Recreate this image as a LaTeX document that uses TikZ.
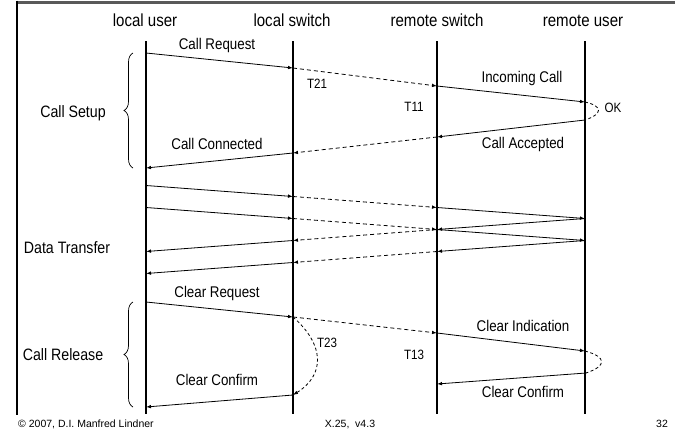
\documentclass[tikz,border=0pt]{standalone}
\usepackage{fontspec}
\setmainfont[FakeStretch=0.86]{Liberation Sans}
\newfontfamily\footfont{Liberation Sans}
\usetikzlibrary{arrows.meta,decorations.pathreplacing}
\begin{document}
\begin{tikzpicture}[x=1pt,y=-1pt,
  lifeline/.style={line width=1.6pt},
  msg/.style={line width=0.8pt,-{Latex[length=5pt,width=3.6pt]}},
  dmsg/.style={msg,dash pattern=on 4pt off 3pt},
  timer/.style={line width=0.8pt,dash pattern=on 3pt off 2.5pt},
  head/.style={font=\fontsize{17.5}{20}\selectfont,anchor=base,inner sep=0pt},
  lbl/.style={font=\fontsize{15.5}{18}\selectfont,inner sep=0pt},
  tlbl/.style={font=\fontsize{13.5}{16}\selectfont,inner sep=0pt},
  phase/.style={font=\fontsize{16.5}{19}\selectfont,inner sep=0pt},
  foot/.style={font=\footfont\fontsize{10.5}{12}\selectfont,inner sep=0pt},
  bracestyle/.style={decorate,decoration={brace,amplitude=9pt},line width=0.7pt}
]
\useasboundingbox (0,0) rectangle (675,432);
% frame
\coordinate (fTL) at (17,2);
\coordinate (fTR) at (675,2);
\coordinate (fBL) at (17,415);
\draw[line width=3pt,black!65] (fTL) -- (fTR);
\draw[line width=1.8pt] (17,0.5) -- (fBL);

% headers
\node[head] (hLU) at (145,26.5) {local user};
\node[head] (hLS) at (292,26.5) {local switch};
\node[head] (hRS) at (437,26.5) {remote switch};
\node[head] (hRU) at (583,26.5) {remote user};

% lifelines
\coordinate (LUt) at (146,41); \coordinate (LUb) at (146,414);
\coordinate (LSt) at (293,41); \coordinate (LSb) at (293,414);
\coordinate (RSt) at (437,41); \coordinate (RSb) at (437,414);
\coordinate (RUt) at (585,41); \coordinate (RUb) at (585,414);
\draw[lifeline] (LUt) -- (LUb);
\draw[lifeline] (LSt) -- (LSb);
\draw[lifeline] (RSt) -- (RSb);
\draw[lifeline] (RUt) -- (RUb);

% ---------- call setup ----------
\coordinate (cr0) at (146,53);
\coordinate (cr1) at (293,68);
\coordinate (cr2) at (437,86);
\coordinate (cr3) at (585,102);
\coordinate (ca0) at (585,120);
\coordinate (ca1) at (437,137);
\coordinate (ca2) at (293,153);
\coordinate (ca3) at (146,168);
\draw[msg] (cr0) -- (cr1);
\draw[dmsg] (cr1) -- (cr2);
\draw[msg] (cr2) -- (cr3);
\draw[timer] (cr3) .. controls (603,106) and (603,114) .. (ca0);
\draw[msg] (ca0) -- (ca1);
\draw[dmsg] (ca1) -- (ca2);
\draw[msg] (ca2) -- (ca3);

\node[lbl] (lCR) at (217,45) {Call Request};
\node[tlbl] (lT21) at (317,84) {T21};
\node[lbl] (lIC) at (522,78) {Incoming Call};
\node[tlbl] (lT11) at (414,107) {T11};
\node[tlbl] (lOK) at (613,108) {OK};
\node[lbl] (lCC) at (217,144) {Call Connected};
\node[lbl] (lCA) at (523,144) {Call Accepted};

\coordinate (b1a) at (133,168);
\coordinate (b1b) at (133,53);
\draw[bracestyle] (b1a) -- (b1b);
\node[phase] (pSetup) at (73,113) {Call Setup};

% ---------- data transfer ----------
\coordinate (a0) at (146,185.5);
\coordinate (a1) at (293,196.5);
\coordinate (a2) at (437,207.5);
\coordinate (a3) at (585,218.5);
\coordinate (b0) at (146,207.5);
\coordinate (b1) at (293,218.5);
\coordinate (b2) at (437,229.5);
\coordinate (b3) at (585,240.5);
\coordinate (c0) at (585,218.5);
\coordinate (c1) at (437,229.5);
\coordinate (c2) at (293,240.5);
\coordinate (c3) at (146,251.5);
\coordinate (d0) at (585,240.5);
\coordinate (d1) at (437,251.5);
\coordinate (d2) at (293,262.5);
\coordinate (d3) at (146,273.5);
\draw[msg] (a0) -- (a1); \draw[dmsg] (a1) -- (a2); \draw[msg] (a2) -- (a3);
\draw[msg] (b0) -- (b1); \draw[dmsg] (b1) -- (b2); \draw[msg] (b2) -- (b3);
\draw[msg] (c0) -- (c1); \draw[dmsg] (c1) -- (c2); \draw[msg] (c2) -- (c3);
\draw[msg] (d0) -- (d1); \draw[dmsg] (d1) -- (d2); \draw[msg] (d2) -- (d3);
\node[phase] (pData) at (67,248) {Data Transfer};

% ---------- call release ----------
\coordinate (q0) at (146,302);
\coordinate (q1) at (293,317);
\coordinate (q2) at (437,333);
\coordinate (q3) at (585,351);
\coordinate (k0) at (586,373);
\coordinate (k1) at (437,384);
\coordinate (k2) at (293,395);
\coordinate (k3) at (146,407);
\draw[msg] (q0) -- (q1);
\draw[dmsg] (q1) -- (q2);
\draw[msg] (q2) -- (q3);
\draw[timer] (q3) .. controls (607,357) and (607,366) .. (k0);
\draw[msg] (k0) -- (k1);
\draw[timer,-{Latex[length=5pt,width=3.6pt]}] (q1) .. controls (325,345) and (325,375) .. (k2);
\draw[msg] (k2) -- (k3);

\node[lbl] (lCRq) at (217,293) {Clear Request};
\node[lbl] (lCI) at (523,326) {Clear Indication};
\node[tlbl] (lT23) at (327,343) {T23};
\node[tlbl] (lT13) at (414,355) {T13};
\node[lbl] (lCF1) at (217,380) {Clear Confirm};
\node[lbl] (lCF2) at (523,392) {Clear Confirm};

\coordinate (b2a) at (133,407);
\coordinate (b2b) at (133,302);
\draw[bracestyle] (b2a) -- (b2b);
\node[phase] (pRel) at (63,355) {Call Release};

% footer
\node[foot,anchor=west] (fL) at (18,424) {© 2007, D.I. Manfred Lindner};
\node[foot] (fM) at (350,424) {X.25,\ \ v4.3};
\node[foot] (fR) at (662,424) {32};
\end{tikzpicture}
\end{document}
